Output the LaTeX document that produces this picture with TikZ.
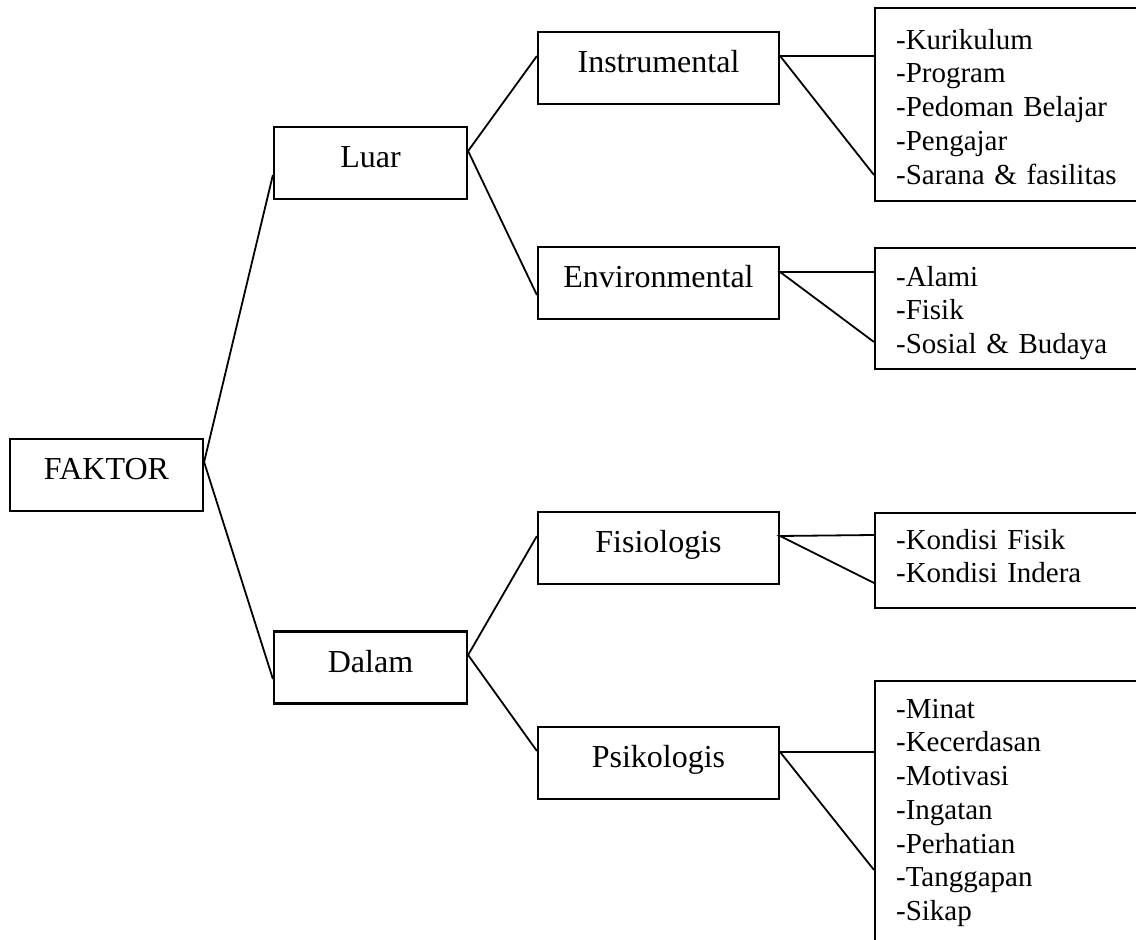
\documentclass[tikz,border=0pt]{standalone}
\usepackage{fontspec}
\setmainfont{Liberation Serif}
\begin{document}
\begin{tikzpicture}[
  x=0.5pt, y=-0.5pt,
  box/.style = {shape=rectangle, draw, line width=1.1pt, inner sep=0pt,
    minimum width=96.5pt, minimum height=36pt,
    font=\fontsize{16}{19}\selectfont, text height=11pt, text depth=6pt},
  wide/.style = {box, minimum width=120.5pt},
  list/.style = {shape=rectangle, draw, line width=1.1pt, anchor=north west,
    inner xsep=10.5pt, inner ysep=0pt, text width=140pt, align=left,
    font=\fontsize{14.5}{16.875}\selectfont},
  link/.style = {line width=0.9pt}
  ]
  \useasboundingbox (0,0) rectangle (1136,940);
  \clip (0,0) rectangle (1136,940);

  \node[box] (faktor) at (106.5,475) {FAKTOR};
  \node[box] (luar)   at (370.5,163) {Luar};
  \node[box] (dalam)  at (370.5,667.5) {Dalam};

  \node[wide] (instr) at (658.5,68)  {Instrumental};
  \node[wide] (env)   at (658.5,283) {Environmental};
  \node[wide] (fisio) at (658.5,548) {Fisiologis};
  \node[wide] (psiko) at (658.5,763) {Psikologis};

  \node[list, text height=20.5pt, text depth=76pt] (instrlist) at (874,7)
    {-Kurikulum\\-Program\\-Pedoman Belajar\\-Pengajar\\-Sarana \& fasilitas};
  \node[list, text height=19pt, text depth=41.5pt] (envlist) at (874,247)
    {-Alami\\-Fisik\\-Sosial \& Budaya};
  \node[list, text height=18pt, text depth=29.5pt] (fisiolist) at (874,512)
    {-Kondisi Fisik\\-Kondisi Indera};
  \node[list, text height=18.5pt, text depth=125pt] (psikolist) at (874,680)
    {-Minat\\-Kecerdasan\\-Motivasi\\-Ingatan\\-Perhatian\\-Tanggapan\\-Sikap};

  \draw[link] ([yshift=-6pt]luar.west) -- ([yshift=6.5pt]faktor.east)
    -- ([yshift=-5.75pt]dalam.west);
  \draw[link] ([yshift=6pt]instr.west) -- ([yshift=6pt]luar.east)
    -- ([yshift=-6pt]env.west);
  \draw[link] ([yshift=6pt]fisio.west) -- ([yshift=6.25pt]dalam.east)
    -- ([yshift=6pt]psiko.west);

  \draw[link] ([yshift=-24.5pt]instrlist.north west) -- ([yshift=6pt]instr.east)
    -- ([yshift=-84pt]instrlist.north west);
  \draw[link] ([yshift=-12.5pt]envlist.north west) -- ([yshift=5.5pt]env.east)
    -- ([yshift=-47.5pt]envlist.north west);
  \draw[link] ([yshift=-11.5pt]fisiolist.north west) -- ([yshift=6pt]fisio.east)
    -- ([yshift=-35.5pt]fisiolist.north west);
  \draw[link] ([yshift=-36pt]psikolist.north west) -- ([yshift=5.5pt]psiko.east)
    -- ([yshift=-95pt]psikolist.north west);
\end{tikzpicture}
\end{document}
